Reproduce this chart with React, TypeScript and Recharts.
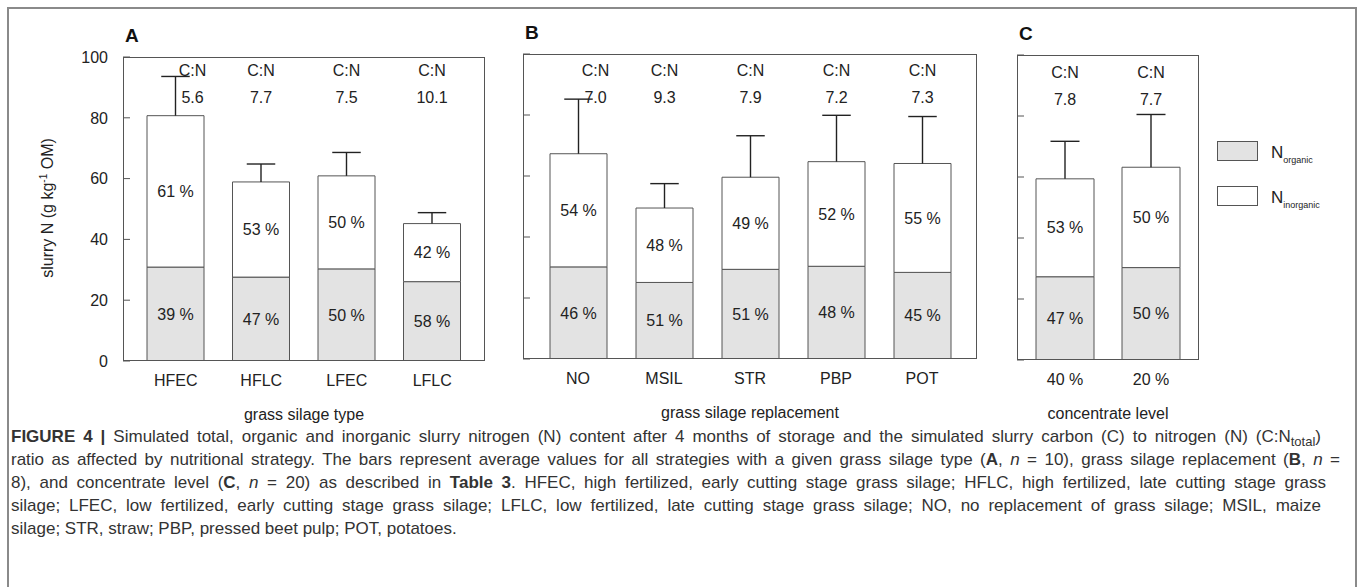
import React from "react";
import { BarChart, Bar, XAxis, YAxis, LabelList } from "recharts";

// panel A: grass silage type
const typeCats = ["HFEC", "HFLC", "LFEC", "LFLC"];
const typeTotal = [80.7, 58.9, 60.9, 45.2];
const typeOrganic = [30.9, 27.6, 30.3, 26.1];
const typeSd = [12.9, 5.9, 7.7, 3.6];
const typeCN = ["5.6", "7.7", "7.5", "10.1"];
const typeOrgPct = ["39 %", "47 %", "50 %", "58 %"];
const typeInorgPct = ["61 %", "53 %", "50 %", "42 %"];

// panel B: grass silage replacement
const replCats = ["NO", "MSIL", "STR", "PBP", "POT"];
const replTotal = [67.3, 49.5, 59.6, 64.7, 64.1];
const replOrganic = [30.2, 25.1, 29.4, 30.4, 28.4];
const replSd = [17.9, 8.0, 13.6, 15.2, 15.4];
const replCN = ["7.0", "9.3", "7.9", "7.2", "7.3"];
const replOrgPct = ["46 %", "51 %", "51 %", "48 %", "45 %"];
const replInorgPct = ["54 %", "48 %", "49 %", "52 %", "55 %"];

// panel C: concentrate level
const concCats = ["40 %", "20 %"];
const concTotal = [59.4, 63.2];
const concOrganic = [27.3, 30.3];
const concSd = [12.3, 17.3];
const concCN = ["7.8", "7.7"];
const concOrgPct = ["47 %", "50 %"];
const concInorgPct = ["53 %", "50 %"];

const yTicks = [0, 20, 40, 60, 80, 100];

const TEXT = "#222";
const LINE = "#555";
const ORGANIC_FILL = "#e3e3e3";
const FONT = "'Liberation Sans', Arial, Helvetica, sans-serif";
const Y_AXIS_W = 40;

type Row = {
  cat: string;
  organic: number;
  inorganic: number;
  sd: number;
  cn: string;
  orgPct: string;
  inorgPct: string;
  top: number;
};

function buildRows(
  cats: string[],
  total: number[],
  organic: number[],
  sd: number[],
  cn: string[],
  orgPct: string[],
  inorgPct: string[]
): Row[] {
  return cats.map((cat, i) => ({
    cat,
    organic: organic[i],
    inorganic: +(total[i] - organic[i]).toFixed(2),
    sd: sd[i],
    cn: cn[i],
    orgPct: orgPct[i],
    inorgPct: inorgPct[i],
    top: total[i] + sd[i],
  }));
}

// ticks point inwards, labels sit outside the box
const makeYTick = (showLabel: boolean) => (props: any) => {
  const { x, y, payload } = props;
  return (
    <g>
      <line x1={x} x2={x + 7} y1={y} y2={y} stroke={LINE} strokeWidth={1} />
      {showLabel && (
        <text x={x - 15} y={y} dy="0.36em" textAnchor="end" fontSize={16} fill={TEXT} fontFamily={FONT}>
          {payload.value}
        </text>
      )}
    </g>
  );
};

const ErrShape = (props: any) => {
  const { x, y, width, height } = props;
  if (x == null || y == null) return null;
  const cx = x + width / 2;
  return (
    <g>
      <line x1={cx} x2={cx} y1={y + height} y2={y} stroke="#222" strokeWidth={1.4} />
      <line x1={cx - width / 4} x2={cx + width / 4} y1={y} y2={y} stroke="#222" strokeWidth={1.4} />
    </g>
  );
};

type PanelProps = {
  rows: Row[];
  left: number;
  width: number;
  margin: { top: number; right: number; bottom: number; left: number };
  pad: number;
  barSize: number;
  showYLabels: boolean;
  axisLabel: string;
  title: string;
  cnY: [number, number];
};

function Panel({ rows, left, width, margin, pad, barSize, showYLabels, axisLabel, title, cnY }: PanelProps) {
  const height = 440;
  const xAxisHeight = 60;
  const plotLeft = margin.left + Y_AXIS_W;
  const plotW = width - plotLeft - margin.right;
  const plotH = height - margin.top - margin.bottom - xAxisHeight;

  const cnLabel = (props: any) => {
    const vb = props.viewBox || props;
    const i = props.index;
    const row = rows[i];
    if (!row || vb.x == null) return null;
    // move the text aside when the whisker reaches into it
    const shift = row.top > 84 ? 17 : 0;
    const cx = vb.x + vb.width / 2 + shift;
    return (
      <g fontFamily={FONT} fontSize={16} fill={TEXT} textAnchor="middle">
        <text x={cx} y={cnY[0]} dy="0.36em">C:N</text>
        <text x={cx} y={cnY[1]} dy="0.36em">{row.cn}</text>
      </g>
    );
  };

  return (
    <div style={{ position: "absolute", left, top: 0, width, height }}>
      <div
        style={{
          position: "absolute",
          left: plotLeft + 2,
          top: margin.top - 31,
          fontSize: 19,
          fontWeight: "bold",
          lineHeight: "19px",
          color: "#111",
        }}
      >
        {title}
      </div>
      <BarChart width={width} height={height} data={rows} margin={margin}>
        <XAxis
          dataKey="cat"
          type="category"
          interval={0}
          padding={{ left: pad, right: pad }}
          tickLine={false}
          axisLine={false}
          tickSize={0}
          tickMargin={14}
          height={xAxisHeight}
          tick={{ fontSize: 16, fill: TEXT, fontFamily: FONT }}
          label={{ value: axisLabel, position: "insideTop", offset: 48, fontSize: 16, fill: TEXT, fontFamily: FONT }}
        />
        <YAxis
          type="number"
          domain={[0, 100]}
          ticks={yTicks}
          width={Y_AXIS_W}
          tickLine={false}
          axisLine={false}
          tickSize={0}
          tickMargin={0}
          interval={0}
          tick={makeYTick(showYLabels)}
          allowDataOverflow
        />
        <Bar dataKey="organic" stackId="n" barSize={barSize} fill={ORGANIC_FILL} stroke={LINE} strokeWidth={1} isAnimationActive={false}>
          <LabelList dataKey="orgPct" position="center" fontSize={16} fill={TEXT} fontFamily={FONT} />
        </Bar>
        <Bar dataKey="inorganic" stackId="n" barSize={barSize} fill="#ffffff" stroke={LINE} strokeWidth={1} isAnimationActive={false}>
          <LabelList dataKey="inorgPct" position="center" fontSize={16} fill={TEXT} fontFamily={FONT} />
        </Bar>
        <Bar dataKey="sd" stackId="n" barSize={barSize} fill="none" shape={ErrShape} isAnimationActive={false}>
          <LabelList dataKey="cn" content={cnLabel} />
        </Bar>
      </BarChart>
      <div
        style={{
          position: "absolute",
          left: plotLeft,
          top: margin.top,
          width: plotW,
          height: plotH,
          border: `1px solid ${LINE}`,
          boxSizing: "border-box",
          pointerEvents: "none",
        }}
      />
    </div>
  );
}

const captionLines: { width: number; content: React.ReactNode }[] = [
  {
    width: 1310,
    content: (
      <>
        <b>FIGURE 4 |</b> Simulated total, organic and inorganic slurry nitrogen (N) content after 4 months of storage and the simulated slurry carbon (C) to nitrogen (N) (C:N<sub style={{ fontSize: 13, lineHeight: 0 }}>total</sub>)
      </>
    ),
  },
  {
    width: 1329,
    content: (
      <>
        ratio as affected by nutritional strategy. The bars represent average values for all strategies with a given grass silage type (<b>A</b>, <i>n</i> = 10), grass silage replacement (<b>B</b>, <i>n</i> =
      </>
    ),
  },
  {
    width: 1315,
    content: (
      <>
        8), and concentrate level (<b>C</b>, <i>n</i> = 20) as described in <b>Table 3</b>. HFEC, high fertilized, early cutting stage grass silage; HFLC, high fertilized, late cutting stage grass
      </>
    ),
  },
  {
    width: 1310,
    content: (
      <>
        silage; LFEC, low fertilized, early cutting stage grass silage; LFLC, low fertilized, late cutting stage grass silage; NO, no replacement of grass silage; MSIL, maize
      </>
    ),
  },
  { width: 0, content: <>silage; STR, straw; PBP, pressed beet pulp; POT, potatoes.</> },
];

export default function App() {
  const typeRows = buildRows(typeCats, typeTotal, typeOrganic, typeSd, typeCN, typeOrgPct, typeInorgPct);
  const replRows = buildRows(replCats, replTotal, replOrganic, replSd, replCN, replOrgPct, replInorgPct);
  const concRows = buildRows(concCats, concTotal, concOrganic, concSd, concCN, concOrgPct, concInorgPct);

  return (
    <div
      style={{
        position: "absolute",
        left: 0,
        top: 0,
        width: 1358,
        height: 587,
        overflow: "hidden",
        background: "#fff",
        fontFamily: FONT,
        color: TEXT,
      }}
    >
      <div
        style={{
          position: "absolute",
          left: 7,
          top: 7,
          width: 1350,
          height: 620,
          border: "2px solid #8a8a8a",
          boxSizing: "border-box",
        }}
      />
      <Panel
        rows={typeRows}
        left={0}
        width={500}
        margin={{ top: 57, right: 15, bottom: 19, left: 123 - Y_AXIS_W }}
        pad={10}
        barSize={57}
        showYLabels
        axisLabel="grass  silage  type"
        title="A"
        cnY={[70, 97]}
      />
      <Panel
        rows={replRows}
        left={500}
        width={490}
        margin={{ top: 54, right: 13, bottom: 21, left: 23 - Y_AXIS_W }}
        pad={12}
        barSize={57}
        showYLabels={false}
        axisLabel="grass  silage  replacement"
        title="B"
        cnY={[70, 97]}
      />
      <Panel
        rows={concRows}
        left={1000}
        width={215}
        margin={{ top: 55, right: 16, bottom: 20, left: 17 - Y_AXIS_W }}
        pad={5}
        barSize={58}
        showYLabels={false}
        axisLabel="concentrate  level"
        title="C"
        cnY={[72.5, 99]}
      />
      {/* y axis title */}
      <div
        style={{
          position: "absolute",
          left: 48,
          top: 208,
          transform: "translate(-50%, -50%) rotate(-90deg)",
          whiteSpace: "nowrap",
          fontSize: 16,
          color: TEXT,
        }}
      >
        slurry N (g kg<sup style={{ fontSize: 10, lineHeight: 0 }}>-1</sup> OM)
      </div>
      {/* legend */}
      <div style={{ position: "absolute", left: 1217, top: 141, width: 41, height: 20, background: ORGANIC_FILL, border: `1px solid ${LINE}`, boxSizing: "border-box" }} />
      <div style={{ position: "absolute", left: 1217, top: 186, width: 41, height: 20, background: "#fff", border: `1px solid ${LINE}`, boxSizing: "border-box" }} />
      <div style={{ position: "absolute", left: 1271, top: 144, fontSize: 17, lineHeight: "17px", whiteSpace: "nowrap" }}>
        N<span style={{ fontSize: 9, position: "relative", top: 5 }}>organic</span>
      </div>
      <div style={{ position: "absolute", left: 1271, top: 189, fontSize: 17, lineHeight: "17px", whiteSpace: "nowrap" }}>
        N<span style={{ fontSize: 9, position: "relative", top: 5 }}>inorganic</span>
      </div>
      {/* caption */}
      <div style={{ position: "absolute", left: 11, top: 425, fontSize: 17, lineHeight: "23px", color: "#333" }}>
        {captionLines.map((ln, i) => (
          <div
            key={i}
            style={{
              width: ln.width || undefined,
              whiteSpace: "nowrap",
              textAlign: ln.width ? "justify" : "left",
              textAlignLast: ln.width ? "justify" : "auto",
            }}
          >
            {ln.content}
          </div>
        ))}
      </div>
    </div>
  );
}
